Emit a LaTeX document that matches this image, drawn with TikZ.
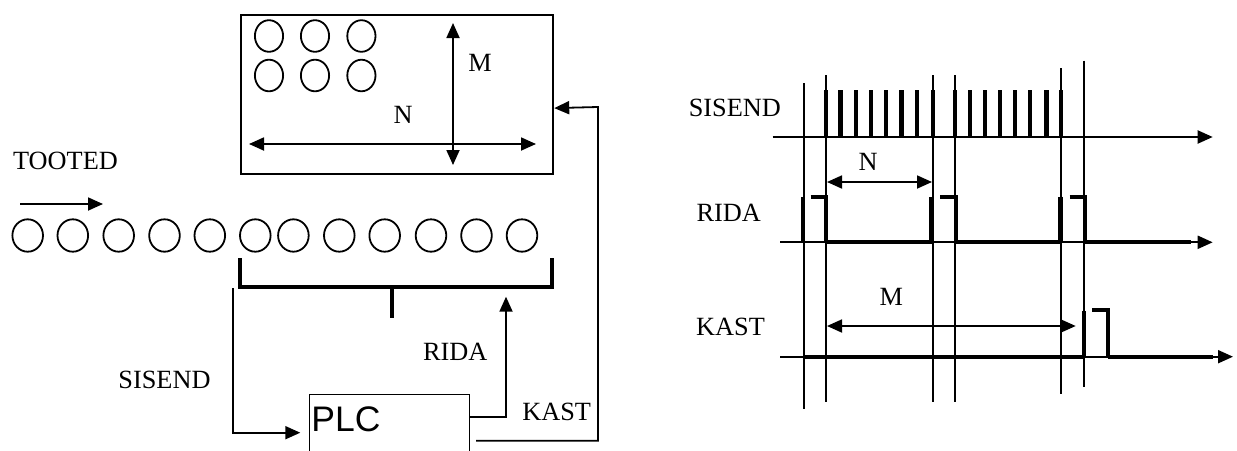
\documentclass[tikz,border=0pt]{standalone}
\usepackage{fontspec}
\setmainfont{Liberation Serif}
\newfontfamily\plcfont{Liberation Sans}
\usetikzlibrary{arrows.meta,shapes.geometric}
\begin{document}
\begin{tikzpicture}[x=1pt,y=-1pt,
  lbl/.style={font=\fontsize{26.3}{30}\selectfont, inner sep=0pt, outer sep=0pt},
  ln/.style={line width=1.8pt},
  tipA/.tip={Triangle[length=15pt,width=13pt]},
  arr/.style={ln, -tipA},
  darr/.style={ln, tipA-tipA},
  ring/.style={draw, ellipse, line width=1.8pt, inner sep=0pt},
  grid/.style={line width=2pt},
  pulse/.style={line width=4.2pt},
  hi/.style={line width=4pt, line join=miter}]
\useasboundingbox (0,0) rectangle (1237,450);

% ---------------- left: box with products ----------------
\node[draw, line width=2.2pt, minimum width=312pt, minimum height=159pt, anchor=north west, inner sep=0pt] (box) at (240,14) {};
\foreach \x [count=\i] in {269,315,361.4}{
  \node[ring, minimum width=28.2pt, minimum height=31.6pt] (ba\i) at (\x,36) {};
  \node[ring, minimum width=28.2pt, minimum height=31.6pt] (bb\i) at (\x,75.5) {};
}
\draw[darr] (453,23) -- (453,165);
\draw[darr] (249,144) -- (536,144);
\node[lbl] (boxM) at (480,63) {M};
\node[lbl] (boxN) at (403,115) {N};

% ---------------- conveyor ----------------
\node[lbl] (tooted) at (65.5,161) {TOOTED};
\coordinate (tootA) at (20,204);
\coordinate (tootB) at (103,204);
\draw[arr] (tootA) -- (tootB);
\foreach \x [count=\i] in {27.7,72.8,118.7,164.5,209.8,255.3,293.4,339.3,384.7,431,476.5,522}{
  \node[ring, minimum width=30.6pt, minimum height=32.4pt] (c\i) at (\x,235.5) {};
}
% bracket (sensor)
\draw[line width=3.8pt, line join=miter] (240,258.3) -- (240,286.7) -- (552,286.7) -- (552,258.3);
\draw[line width=3.8pt] (392.3,286.7) -- (392.3,317.7);

% ---------------- PLC ----------------
\node[minimum width=159.7pt, minimum height=56.7pt, anchor=north west, inner sep=0pt] (plc) at (309.3,394.3) {};
\draw[line width=1.3pt] (plc.south west) -- (plc.north west) -- (plc.north east) -- (plc.south east);
\node[anchor=base west, inner sep=0pt, font=\plcfont\fontsize{35.5}{40}\selectfont] (plctext) at (311.2,431.7) {PLC};

% connectors
\coordinate (sisS) at (233.3,288.3);
\draw[arr, shorten >=9pt] (sisS) |- ([yshift=-38.4pt]plc.north west);
\coordinate (ridaTip) at (506,296.7);
\draw[arr] ([yshift=-22.4pt]plc.north east) -| (ridaTip);
\coordinate (kastS) at (476,440.7);
\coordinate (kastC) at (598,107);
\draw[arr] (kastS) -| (kastC) -- ([yshift=-13.5pt]box.east);

\node[lbl] (lSis) at (164.5,380) {SISEND};
\node[lbl] (lRida) at (455.3,351.7) {RIDA};
\node[lbl] (lKast) at (556.7,411.7) {KAST};

% ---------------- right: timing diagram ----------------
\draw[grid] (803.6,83.3) -- (803.6,409.3);
\draw[grid] (825.7,75) -- (825.7,402.3);
\draw[grid] (932.8,75) -- (932.8,402.3);
\draw[grid] (955.2,75) -- (955.2,402.3);
\draw[grid] (1061.2,68.3) -- (1061.2,394.3);
\draw[grid] (1084.3,60.7) -- (1084.3,386.7);

% SISEND
\node[lbl] (rSis) at (734.8,108) {SISEND};
\foreach \x in {825.7,840.5,856.3,870.8,886.3,901.4,916.6,932.8,955.2,969.6,985.1,999.6,1015.1,1030.2,1046.4,1061.2}
  \draw[pulse] (\x,90) -- (\x,137);
\draw[arr, line width=2pt] (772.6,137) -- (1212.7,137);

% N
\draw[darr] (827,182) -- (932,182);
\node[lbl] (rN) at (868,162) {N};

% RIDA
\node[lbl] (rRida) at (728.8,213.3) {RIDA};
\draw[arr, line width=2pt] (780,242.3) -- (1212.7,242.3);
\draw[hi] (825.7,242.3) -- (932.8,242.3);
\draw[hi] (955.2,242.3) -- (1061.2,242.3);
\draw[hi] (1084.3,242.3) -- (1191,242.3);
\draw[pulse] (803.3,196.7) -- (803.3,242.3);
\draw[hi] (810.7,196.7) -- (826.3,196.7) -- (826.3,242.3);
\draw[pulse] (931.5,196.7) -- (931.5,242.3);
\draw[hi] (940,196.7) -- (955.5,196.7) -- (955.5,242.3);
\draw[pulse] (1060.5,196.7) -- (1060.5,242.3);
\draw[hi] (1069.5,196.7) -- (1085,196.7) -- (1085,242.3);

% M
\draw[darr] (827,326) -- (1075.7,326);
\node[lbl] (rM) at (891.4,297.3) {M};

% KAST
\node[lbl] (rKast) at (730.5,326.7) {KAST};
\draw[arr, line width=2pt] (780,356.7) -- (1233,356.7);
\draw[hi] (803.6,356.7) -- (1084.3,356.7);
\draw[hi] (1108.4,356.7) -- (1213.4,356.7);
\draw[pulse] (1083.6,311) -- (1083.6,356.7);
\draw[hi] (1092,310) -- (1108.4,310) -- (1108.4,356.7);
\end{tikzpicture}
\end{document}
